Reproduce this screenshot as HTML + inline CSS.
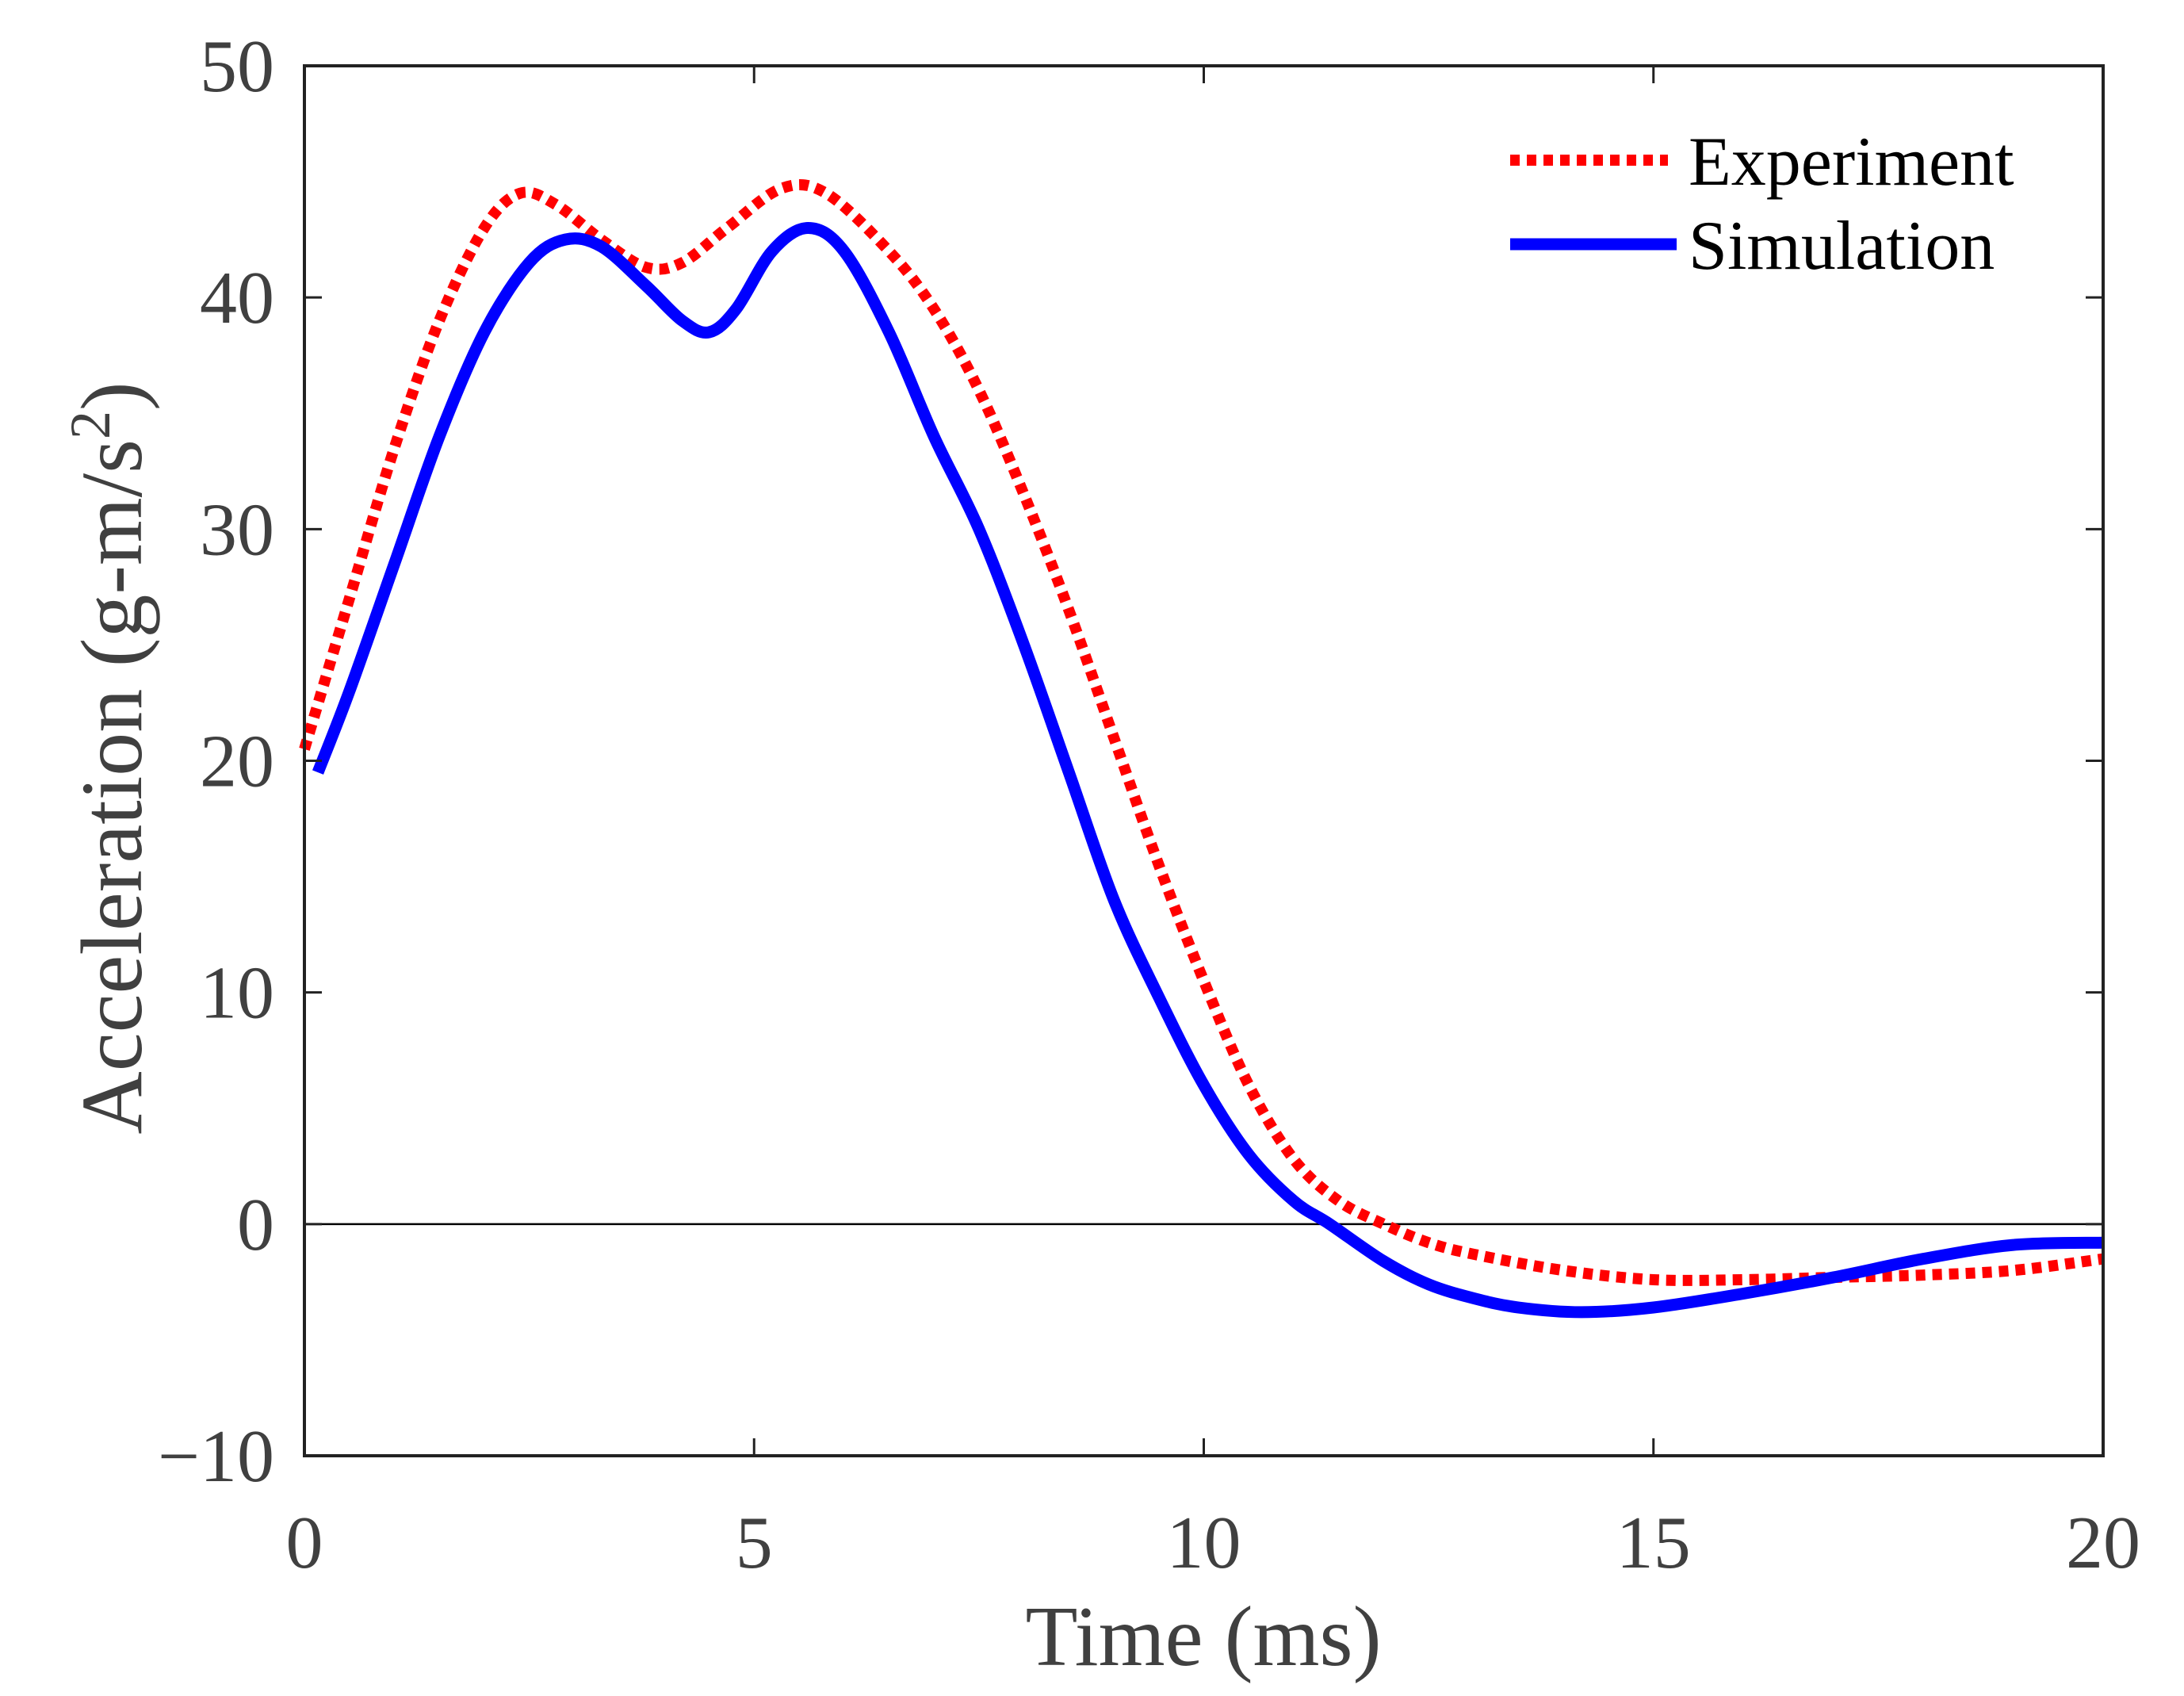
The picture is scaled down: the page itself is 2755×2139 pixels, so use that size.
<!DOCTYPE html>
<html><head><meta charset="utf-8"><style>
html,body{margin:0;padding:0;background:#fff}
svg{display:block}
text{font-family:"Liberation Serif",serif}
</style></head><body>
<svg id="chart" width="2755" height="2139" viewBox="0 0 2755 2139" xmlns="http://www.w3.org/2000/svg">
<rect width="2755" height="2139" fill="#fff"/>
<g id="plot"></g>
</svg>
<script>
const xTicks = [0, 5, 10, 15, 20];
const yTicks = [-10, 0, 10, 20, 30, 40, 50];
const yTickLabels = ["\u221210", "0", "10", "20", "30", "40", "50"];
const simT = [0.15,0.5,1,1.5,2,2.5,2.9,3.3,3.8,4.2,4.5,4.8,5.2,5.6,6,6.5,7,7.5,8,8.5,9,9.5,10,10.5,11,11.4,12,12.5,13,13.5,14.2,15,16,17,18,19,20];
const simV = [19.5,23,28.5,34,38.5,41.5,42.5,42.2,40.5,39,38.5,39.5,42,43,42,38.5,34,30,25,19.5,14,9.8,6,3,1,0,-1.6,-2.6,-3.2,-3.6,-3.8,-3.6,-3,-2.3,-1.5,-0.9,-0.8];
const expT = [0,0.5,1,1.5,2,2.4,2.8,3.3,3.8,4.2,4.7,5.3,5.8,6.5,7,7.5,8,8.5,9,9.5,10,10.5,11,11.5,12,12.5,13,14,15,16,17,18,19,20];
const expV = [20.5,27,33.5,39,43,44.5,44,42.5,41.3,41.5,43,44.7,44.5,42,39.5,36,31.5,26.5,21,15.5,10.5,6,2.8,1,0,-0.8,-1.3,-2,-2.4,-2.4,-2.3,-2.2,-2,-1.5];

const X0=384, X1=2653, Y0=1836, Y1=83;
const xS = t => X0 + (t-0)/(20-0)*(X1-X0);
const yS = v => Y0 - (v+10)/(60)*(Y0-Y1);
const NS="http://www.w3.org/2000/svg";
const g=document.getElementById('plot');
function mk(tag, attrs){const e=document.createElementNS(NS,tag);for(const k in attrs)e.setAttribute(k,attrs[k]);g.appendChild(e);return e;}
function smooth(ts,vs){
  const p=ts.map((t,i)=>[xS(t),yS(vs[i])]);
  let d=`M${p[0][0]},${p[0][1]}`;
  for(let i=0;i<p.length-1;i++){
    const a=p[Math.max(0,i-1)],b=p[i],c=p[i+1],e=p[Math.min(p.length-1,i+2)];
    const c1=[b[0]+(c[0]-a[0])/6,b[1]+(c[1]-a[1])/6];
    const c2=[c[0]-(e[0]-b[0])/6,c[1]-(e[1]-b[1])/6];
    d+=` C${c1[0]},${c1[1]} ${c2[0]},${c2[1]} ${c[0]},${c[1]}`;
  }
  return d;
}
let z=mk('line',{x1:X0,x2:X1,y1:yS(0),y2:yS(0),stroke:'#000','stroke-width':2.5});


let ex=mk('path',{d:smooth(expT,expV),fill:'none',stroke:'#ff0000','stroke-width':14,'stroke-dasharray':'12 9'});


let sm=mk('path',{d:smooth(simT,simV),fill:'none',stroke:'#0000ff','stroke-width':15,'stroke-linejoin':'round'});


let box=mk('rect',{x:X0,y:Y1,width:X1-X0,height:Y0-Y1,fill:'none',stroke:'#222','stroke-width':4});


xTicks.forEach(t=>{
  const x=xS(t);
  let a=mk('line',{x1:x,x2:x,y1:Y0,y2:Y0-22,stroke:'#222','stroke-width':3});
  
  
  let b=mk('line',{x1:x,x2:x,y1:Y1,y2:Y1+22,stroke:'#222','stroke-width':3});
  
  
  let l=mk('text',{x:x,y:1977,'font-size':94,fill:'#404040','text-anchor':'middle'});
  l.textContent=String(t);
  
  
});
yTicks.forEach((v,i)=>{
  const y=yS(v);
  let a=mk('line',{x1:X0,x2:X0+22,y1:y,y2:y,stroke:'#222','stroke-width':3});
  
  
  let b=mk('line',{x1:X1,x2:X1-22,y1:y,y2:y,stroke:'#222','stroke-width':3});
  
  
  let l=mk('text',{x:346,y:y+32,'font-size':94,fill:'#404040','text-anchor':'end'});
  l.textContent=yTickLabels[i];
  
  
});
let xt=mk('text',{x:1518,y:2100,'font-size':108,fill:'#404040','text-anchor':'middle'});
xt.textContent='Time (ms)';


let yt=mk('text',{x:0,y:0,'font-size':110,fill:'#404040','text-anchor':'middle',transform:'translate(178,956) rotate(-90)'});
yt.innerHTML='Acceleration (g-m/s<tspan dy="-40" font-size="72">2</tspan><tspan dy="40">)</tspan>';


let l1=mk('line',{x1:1905,x2:2104,y1:202,y2:202,stroke:'#ff0000','stroke-width':14,'stroke-dasharray':'12 9'});


let t1=mk('text',{x:2130,y:233,'font-size':88,fill:'#000'});
t1.textContent='Experiment';


let l2=mk('line',{x1:1905,x2:2115,y1:308,y2:308,stroke:'#0000ff','stroke-width':15});


let t2=mk('text',{x:2130,y:339,'font-size':88,fill:'#000'});
t2.textContent='Simulation';


</script>
</body></html>
